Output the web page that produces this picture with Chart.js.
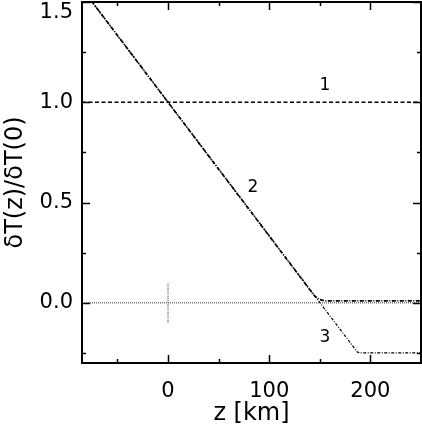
<!DOCTYPE html>
<html>
<head>
<meta charset="utf-8">
<script src="https://cdn.jsdelivr.net/npm/chart.js@4/dist/chart.umd.min.js"></script>
<style>
html,body{margin:0;padding:0;background:#fff;}
#wrap{width:422px;height:431px;}
</style>
</head>
<body>
<div id="wrap"><canvas id="c" width="422" height="431"></canvas></div>
<script>
// ---- data ----
const zRange = [-85, 250];
const yRange = [-0.3, 1.5];
const xMajorTicks = [0, 100, 200];
const xMinorTicks = [-50, 50, 150];
const yMajorTicks = [0, 0.5, 1.0, 1.5];
const yMinorTicks = [-0.25, 0.25, 0.75, 1.25];

const curve1Z = [-85, 250];
const curve1Y = [1.0, 1.0];
const curve2Z = [-85, 145, 150, 155, 250];
const curve2Y = [1.567, 0.033, 0.016, 0.01, 0.01];
const curve3Z = [-85, 187, 190, 250];
const curve3Y = [1.567, -0.245, -0.25, -0.25];
const zeroZ = [-85, 250];
const zeroY = [0, 0];
const markZ = [0, 0];
const markY = [-0.1, 0.1];

const curveLabels = ['1', '2', '3'];
const curveLabelZ = [155, 84, 155];
const curveLabelY = [1.085, 0.577, -0.174];

const FONT = "'DejaVu Sans', sans-serif";

function pts(xs, ys){ return xs.map((x,i)=>({x:x, y:ys[i]})); }

const framePlugin = {
  id: 'frame',
  afterDatasetsDraw(chart){
    const {ctx, chartArea:a, scales:{x, y}} = chart;
    ctx.save();
    ctx.strokeStyle = '#000';
    ctx.lineWidth = 2;
    ctx.strokeRect(a.left, a.top, a.right - a.left, a.bottom - a.top);
    ctx.lineWidth = 1.5;
    ctx.beginPath();
    const tick = (vals, len) => {
      vals.forEach(v => {
        const px = Math.round(x.getPixelForValue(v)) + 0.5;
        ctx.moveTo(px, a.bottom); ctx.lineTo(px, a.bottom - len);
        ctx.moveTo(px, a.top); ctx.lineTo(px, a.top + len);
      });
    };
    const tickY = (vals, len) => {
      vals.forEach(v => {
        const py = Math.round(y.getPixelForValue(v)) + 0.5;
        ctx.moveTo(a.left, py); ctx.lineTo(a.left + len, py);
        ctx.moveTo(a.right, py); ctx.lineTo(a.right - len, py);
      });
    };
    tick(xMajorTicks, 8); tick(xMinorTicks, 4);
    tickY(yMajorTicks, 8); tickY(yMinorTicks, 4);
    ctx.stroke();
    // curve labels
    ctx.fillStyle = '#000';
    ctx.font = "17px " + FONT;
    ctx.textAlign = 'center';
    ctx.textBaseline = 'middle';
    curveLabels.forEach((t,i) => {
      ctx.fillText(t, x.getPixelForValue(curveLabelZ[i]), y.getPixelForValue(curveLabelY[i]));
    });
    ctx.restore();
  }
};

const noPad = s => { s.paddingTop = 0; s.paddingBottom = 0; s.paddingLeft = 0; s.paddingRight = 0; };

const baseDs = {showLine:true, pointRadius:0, borderColor:'#000', fill:false, tension:0};

new Chart(document.getElementById('c'), {
  type: 'scatter',
  data: {
    datasets: [
      Object.assign({}, baseDs, {label:'0', data: pts(zeroZ, zeroY), borderColor:'#555', borderWidth:1.2, borderDash:[1,1]}),
      Object.assign({}, baseDs, {label:'mark', data: pts(markZ, markY), borderColor:'#555', borderWidth:1.2, borderDash:[1,1]}),
      Object.assign({}, baseDs, {label:'1', data: pts(curve1Z, curve1Y), borderWidth:1.5, borderDash:[4,2.5]}),
      Object.assign({}, baseDs, {label:'2', data: pts(curve2Z, curve2Y), borderWidth:1.7, borderDash:[4,1.5,1,1.5]}),
      Object.assign({}, baseDs, {label:'3', data: pts(curve3Z, curve3Y), borderWidth:1.2, borderDash:[3,1.5,1,1.5]})
    ]
  },
  options: {
    responsive: false,
    animation: false,
    devicePixelRatio: 1,
    layout: {padding: {top: 2, right: 1, left: 0, bottom: 0}},
    plugins: {legend: {display:false}, tooltip: {enabled:false}},
    scales: {
      x: {
        type: 'linear', min: zRange[0], max: zRange[1],
        grid: {display:false, drawTicks:false},
        border: {display:false},
        afterBuildTicks: s => { s.ticks = xMajorTicks.map(v => ({value:v})); },
        afterFit: s => { s.height = 68; noPad(s); },
        ticks: {color:'#000', font:{family:FONT, size:21}, padding:16, maxRotation:0,
                callback: v => String(v)},
        title: {display:true, text:'z [km]', color:'#000', font:{family:FONT, size:24}, padding:{top:0, bottom:3}}
      },
      y: {
        type: 'linear', min: yRange[0], max: yRange[1],
        grid: {display:false, drawTicks:false},
        border: {display:false},
        afterBuildTicks: s => { s.ticks = yMajorTicks.map(v => ({value:v})); },
        afterFit: s => { s.width = 82; noPad(s); },
        ticks: {color:'#000', font:{family:FONT, size:21, lineHeight:1.0}, padding:9,
                callback: v => (v === 1.5 ? ['', v.toFixed(1)] : v.toFixed(1))},
        title: {display:true, text:'δT(z)/δT(0)', color:'#000', font:{family:FONT, size:24}, padding:{top:1, bottom:0}}
      }
    }
  },
  plugins: [framePlugin]
});
</script>
</body>
</html>
